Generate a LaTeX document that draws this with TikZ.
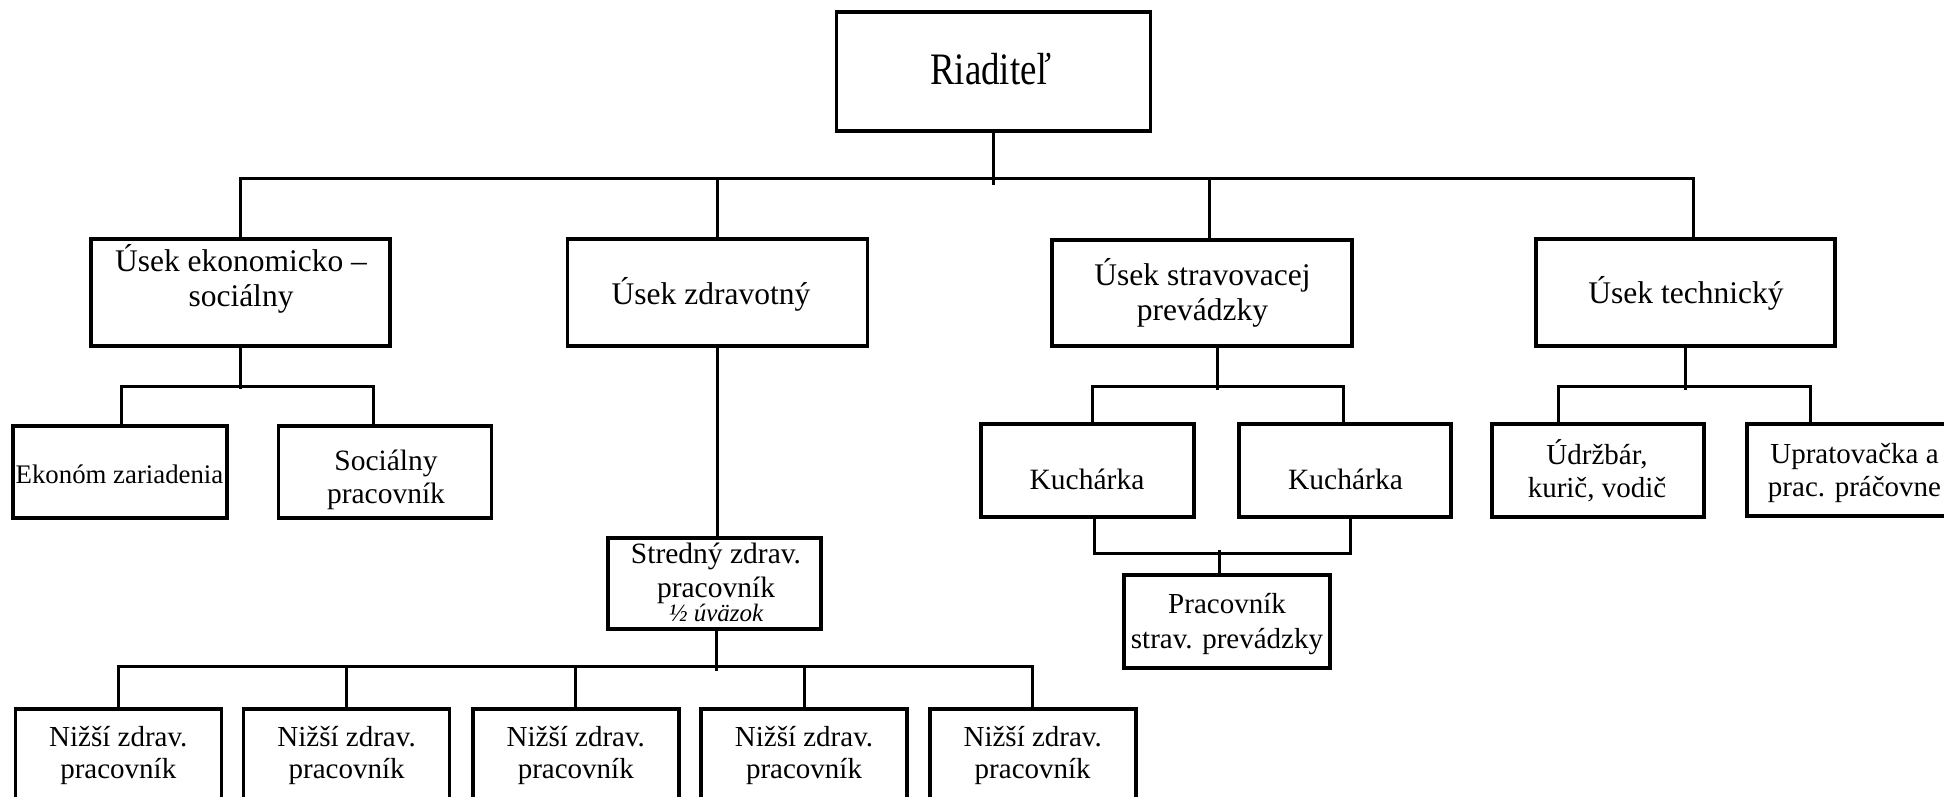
\documentclass[tikz,border=0pt]{standalone}
\usepackage{fontspec}
\setmainfont{Liberation Serif}
\usetikzlibrary{calc}
\newcommand\mlines[3]{\fontsize{#1}{#2}\selectfont\begin{tabular}[t]{@{}c@{}}#3\end{tabular}}
\begin{document}
\begin{tikzpicture}[x=1pt,y=-1pt,
  box/.style 2 args={draw, line width=3.6pt, inner sep=0pt, minimum width=#1pt, minimum height=#2pt},
  txt/.style={anchor=base, inner sep=0pt},
  conn/.style={line width=3pt}]
\useasboundingbox (0,0) rectangle (1944,796);
\fill[white] (0,0) rectangle (1944,796);
\clip (0,0) rectangle (1944,796);

% boxes
\node[box={314}{119}] (R) at (993.5,71.5) {};
\node[box={299}{107}] (E) at (240.5,292.5) {};
\node[box={300}{107}] (Z) at (717.3,292.5) {};
\node[box={300}{106}] (S) at (1202,292.8) {};
\node[box={299}{107}] (T) at (1685.5,292.5) {};
\node[box={214}{92}] (EK) at (119.7,472.2) {};
\node[box={213}{92}] (SO) at (385,472) {};
\node[box={213}{91}] (ST) at (714.7,583.2) {};
\node[box={213}{93}] (K1) at (1087.5,470.5) {};
\node[box={212}{93}] (K2) at (1345,470.5) {};
\node[box={206}{93}] (PS) at (1227,621.5) {};
\node[box={212}{93}] (U1) at (1598,470.5) {};
\node[box={214}{92}] (U2) at (1854,470) {};
\node[box={206}{190}] (N1) at (118.3,804) {};
\node[box={206}{190}] (N2) at (346.6,804) {};
\node[box={206}{190}] (N3) at (575.8,804) {};
\node[box={206}{190}] (N4) at (804,804) {};
\node[box={206}{190}] (N5) at (1032.7,804) {};

% texts
\node[txt] (Rt) at (991,84) {\fontsize{45}{50}\selectfont\scalebox{0.82}[1]{Riaditeľ}};
\node[txt] (Et) at (241,271.5) {\mlines{31.5}{35}{Úsek ekonomicko –\\sociálny}};
\node[txt] (Zt) at (711,304) {\mlines{31.5}{35}{Úsek zdravotný}};
\node[txt] (St) at (1202.5,285.5) {\mlines{31.5}{35}{Úsek stravovacej\\prevádzky}};
\node[txt] (Tt) at (1686,303) {\mlines{31.5}{35}{Úsek technický}};
\node[txt] (EKt) at (119.5,483.3) {\mlines{26.8}{30}{Ekonóm zariadenia}};
\node[txt] (SOt) at (386,470) {\mlines{29.5}{33.5}{Sociálny\\pracovník}};
\node[txt] (STt) at (716,563.3) {\mlines{29.5}{34.5}{Stredný zdrav.\\pracovník\\[-10.5pt]{\fontsize{25}{27}\selectfont\itshape ½ úväzok}}};
\node[txt] (K1t) at (1087,489) {\mlines{29.5}{34}{Kuchárka}};
\node[txt] (K2t) at (1345.5,489) {\mlines{29.5}{34}{Kuchárka}};
\node[txt] (PSt) at (1227,613.3) {\mlines{29}{35}{Pracovník\\strav. prevádzky}};
\node[txt] (U1t) at (1597,464) {\mlines{29}{33}{Údržbár,\\kurič, vodič}};
\node[txt] (U2t) at (1854.5,463.5) {\mlines{29}{33.4}{Upratovačka a\\prac. práčovne}};
\foreach \n in {1,...,5}{
  \node[txt] (N\n t) at ($(N\n.north)+(0,39.3)$) {\mlines{29}{31.7}{Nižší zdrav.\\pracovník}};
}

% connectors
\draw[conn] (R.south) -- ++(0,52);
\draw[conn] (E.north) -- ++(0,-58.5) -| ([xshift=7.5pt]T.north);
\draw[conn] (Z.north) -- ++(0,-58.5);
\draw[conn] ([xshift=7pt]S.north) -- ++(0,-58.5);

\draw[conn] (E.south) -- ++(0,41.5);
\draw[conn] ([xshift=2pt]EK.north) -- ++(0,-38) -| ([xshift=-11.7pt]SO.north);

\draw[conn] (Z.south) -- (Z.south |- ST.north);
\draw[conn] ([xshift=1.5pt]ST.south) -- ++(0,40.5);
\draw[conn] (N1.north) -- ++(0,-40.3) -| (N5.north);
\draw[conn] (N2.north) -- ++(0,-40.3);
\draw[conn] (N3.north) -- ++(0,-40.3);
\draw[conn] (N4.north) -- ++(0,-40.3);

\draw[conn] ([xshift=15pt]S.south) -- ++(0,42);
\draw[conn] ([xshift=4.5pt]K1.north) -- ++(0,-36) -| ([xshift=-2pt]K2.north);
\draw[conn] ([xshift=6.5pt]K1.south) -- ++(0,35) -| ([xshift=5pt]K2.south);
\draw[conn] ([xshift=-8pt]PS.north) -- ++(0,-23);

\draw[conn] (T.south) -- ++(0,42);
\draw[conn] ([xshift=-40pt]U1.north) -- ++(0,-36) -| ([xshift=-44pt]U2.north);
\end{tikzpicture}
\end{document}
